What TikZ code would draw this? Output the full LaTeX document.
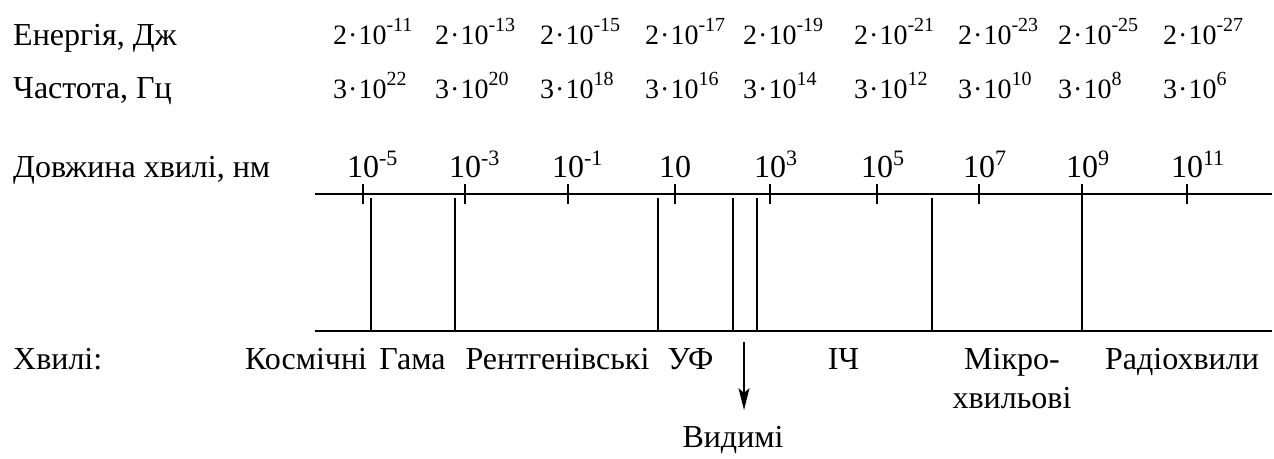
\documentclass[tikz,border=0pt]{standalone}
\usepackage{fontspec}
\setmainfont{Liberation Serif}
\usetikzlibrary{arrows.meta}
\newcommand{\expn}[1]{\raisebox{13pt}{\fontsize{20}{20}\selectfont #1}}
\newcommand{\expt}[1]{\raisebox{12pt}{\fontsize{22}{22}\selectfont #1}}
\newcommand{\md}{\kern1pt·\kern1pt}
\tikzset{
  lab/.style={inner sep=0pt, anchor=base west, font=\fontsize{32}{36}\selectfont},
  num/.style={inner sep=0pt, anchor=base west, font=\fontsize{28}{32}\selectfont},
  tlab/.style={inner sep=0pt, anchor=base, font=\fontsize{32}{36}\selectfont},
  blab/.style={inner sep=0pt, anchor=base, font=\fontsize{32}{36}\selectfont},
  axis/.style={line width=1.6pt},
  tickmark/.style={line width=1.6pt},
  bound/.style={line width=1.6pt},
}
\begin{document}
\begin{tikzpicture}[x=1pt,y=-1pt]
\useasboundingbox (0,0) rectangle (1274,458);
% row labels
\node[lab] (le) at (13,45) {Енергія, Дж};
\node[lab] (lf) at (13,98) {Частота, Гц};
\node[lab] (lw) at (13,177) {Довжина хвилі, нм};
\node[lab] (lv) at (13,369) {Хвилі:};
% energy
\node[num] (e1) at (333,44) {2\md 10\expn{-11}};
\node[num] (e2) at (435,44) {2\md 10\expn{-13}};
\node[num] (e3) at (540,44) {2\md 10\expn{-15}};
\node[num] (e4) at (645,44) {2\md 10\expn{-17}};
\node[num] (e5) at (743,44) {2\md 10\expn{-19}};
\node[num] (e6) at (854,44) {2\md 10\expn{-21}};
\node[num] (e7) at (958,44) {2\md 10\expn{-23}};
\node[num] (e8) at (1058,44) {2\md 10\expn{-25}};
\node[num] (e9) at (1163,44) {2\md 10\expn{-27}};
% frequency
\node[num] (f1) at (333,98) {3\md 10\expn{22}};
\node[num] (f2) at (435,98) {3\md 10\expn{20}};
\node[num] (f3) at (540,98) {3\md 10\expn{18}};
\node[num] (f4) at (645,98) {3\md 10\expn{16}};
\node[num] (f5) at (743,98) {3\md 10\expn{14}};
\node[num] (f6) at (854,98) {3\md 10\expn{12}};
\node[num] (f7) at (958,98) {3\md 10\expn{10}};
\node[num] (f8) at (1058,98) {3\md 10\expn{8}};
\node[num] (f9) at (1163,98) {3\md 10\expn{6}};
% axis lines
\coordinate (tl) at (315,194);
\coordinate (tr) at (1272,194);
\coordinate (bl) at (315,331);
\coordinate (br) at (1272,331);
\draw[axis] (tl) -- (tr);
\draw[axis] (bl) -- (br);
% ticks and labels
\foreach \x/\t [count=\i] in {363/10\rlap{\expt{-5}}, 465/10\rlap{\expt{-3}}, 568/10\rlap{\expt{-1}}, 675/10, 770/10\rlap{\expt{3}}, 877/10\rlap{\expt{5}}, 979/10\rlap{\expt{7}}, 1082/10\rlap{\expt{9}}, 1187/10\rlap{\expt{11}}}{
  \coordinate (ta\i) at (\x,184);
  \coordinate (tb\i) at (\x,204);
  \draw[tickmark] (ta\i) -- (tb\i);
  \node[tlab] (tl\i) at (\x,177) {\t};
}
% band boundaries
\foreach \x [count=\i] in {371,455,658,733,757,932}{
  \coordinate (ba\i) at (\x,198);
  \coordinate (bb\i) at (\x,331);
  \draw[bound] (ba\i) -- (bb\i);
}
\coordinate (ba7) at (1082,194);
\coordinate (bb7) at (1082,331);
\draw[bound] (ba7) -- (bb7);
% band labels
\node[blab] (w1) at (306,369) {Космічні};
\node[blab] (w2) at (412.5,369) {Гама};
\node[blab] (w3) at (557.5,369) {Рентгенівські};
\node[blab] (w4) at (690.5,369) {УФ};
\node[blab] (w5) at (843.5,369) {ІЧ};
\node[blab] (w6) at (1012,369) {Мікро-};
\node[blab] (w6b) at (1012,408) {хвильові};
\node[blab] (w7) at (1182,369) {Радіохвили};
\node[blab] (vis) at (733,447) {Видимі};
\coordinate (arrs) at (744,342);
\coordinate (arre) at (744,410);
\draw[line width=1.6pt, -{Stealth[length=22pt,width=11pt,inset=5pt]}] (arrs) -- (arre);
\end{tikzpicture}
\end{document}
